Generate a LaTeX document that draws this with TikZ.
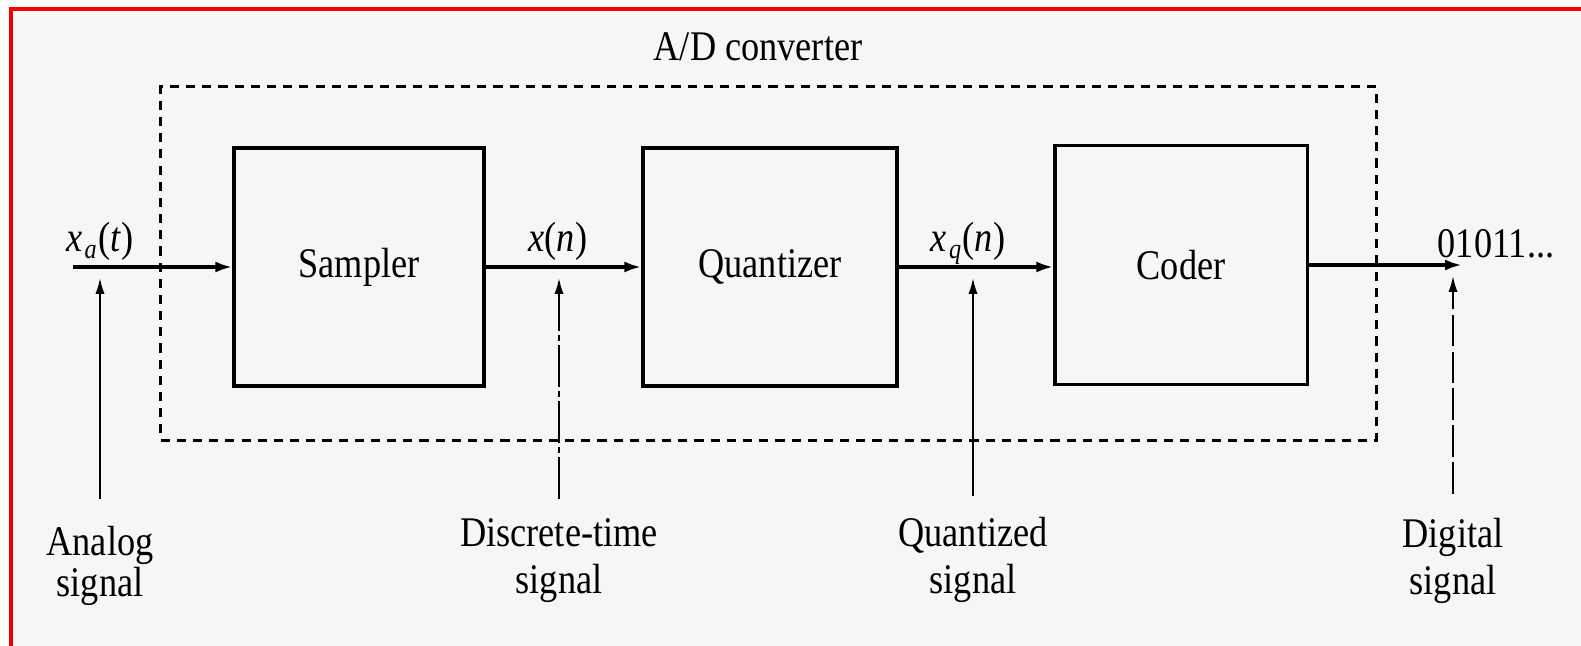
\documentclass[tikz,border=0pt]{standalone}
\usepackage{fontspec}
\setmainfont{Liberation Serif}[FakeStretch=0.86]
\usetikzlibrary{arrows.meta}
\definecolor{bgc}{HTML}{F6F6F6}
\definecolor{framec}{HTML}{F00000}
\begin{document}
\begin{tikzpicture}[x=0.01cm,y=-0.01cm,
  txt/.style={font=\fontsize{12}{12}\selectfont, inner sep=0pt},
  blockbox/.style={draw, line width=0.9pt, minimum height=2.38cm, font=\fontsize{12}{12}\selectfont},
  adcbox/.style={draw, line width=0.9pt, dash pattern=on 2.6pt off 2pt},
  sig/.style={line width=0.95pt, -{Latex[length=4.8pt,width=3.1pt]}},
  vsig/.style={line width=0.55pt, -{Latex[length=4.5pt,width=2.6pt]}, shorten >=0.11cm},
  lab/.style={inner sep=0pt, align=center, anchor=base},
  labtight/.style={lab, font=\fontsize{12}{10.8}\selectfont},
  labloose/.style={lab, font=\fontsize{12}{13.4}\selectfont}
]
\useasboundingbox (0,0) rectangle (1581,646);
\fill[white] (0,0) rectangle (1581,646);
\fill[bgc] (11,9) rectangle (1581,646);
\draw[framec, line width=0.9pt] (11,646) -- (11,9) -- (1581,9);

% A/D converter frame
\node[adcbox, minimum width=12.15cm, minimum height=3.53cm] (adc) at (768.5,263.5) {};
\node[txt, anchor=base] (adclab) at (758,61) {A/D converter};

% blocks
\node[blockbox, minimum width=2.50cm] (sampler) at (359,267) {Sampler};
\node[blockbox, minimum width=2.54cm] (quant) at (770,267) {Quantizer};
\node[blockbox, minimum width=2.52cm, minimum height=2.39cm] (coder) at (1181,265) {Coder};

% signal path
\coordinate (in) at (73,267);
\coordinate (out) at (1462,265);
\draw[sig] (in) -- (sampler.west);
\draw[sig] (sampler.east) -- (quant.west);
\draw[sig] (quant.east) -- (quant.east -| coder.west);
\draw[sig] (coder.east) -- (out);

% signal names
\node[txt, anchor=base] (xa) at (100,252) {\textit{x}\kern0.6pt\textsubscript{\textit{a}}(\textit{t})};
\node[txt, anchor=base] (xn) at (558,252) {\textit{x}(\textit{n})};
\node[txt, anchor=base] (xq) at (968,252) {\textit{x}\kern0.6pt\textsubscript{\textit{q}}(\textit{n})};
\node[txt, anchor=base west] (bits) at (1437,258) {01011...};

% bottom labels
\node[labtight] (analog) at (100,597) {Analog\\signal};
\node[labloose] (dt) at (559,594) {Discrete-time\\signal};
\node[labloose] (qs) at (973,594) {Quantized\\signal};
\node[labloose] (ds) at (1453,595) {Digital\\signal};

% vertical pointers
\coordinate (vA) at (100,499);
\coordinate (vD) at (559,499);
\coordinate (vQ) at (973,496);
\coordinate (vG) at (1453,494);
\draw[vsig] (vA) -- (vA |- in);
\draw[vsig, dash pattern=on 12pt off 1.2pt on 1.5pt off 1.2pt] (vD) -- (vD |- in);
\draw[vsig] (vQ) -- (vQ |- in);
\draw[vsig, dash pattern=on 9pt off 1.5pt] (vG) -- (vG |- out);
\end{tikzpicture}
\end{document}
